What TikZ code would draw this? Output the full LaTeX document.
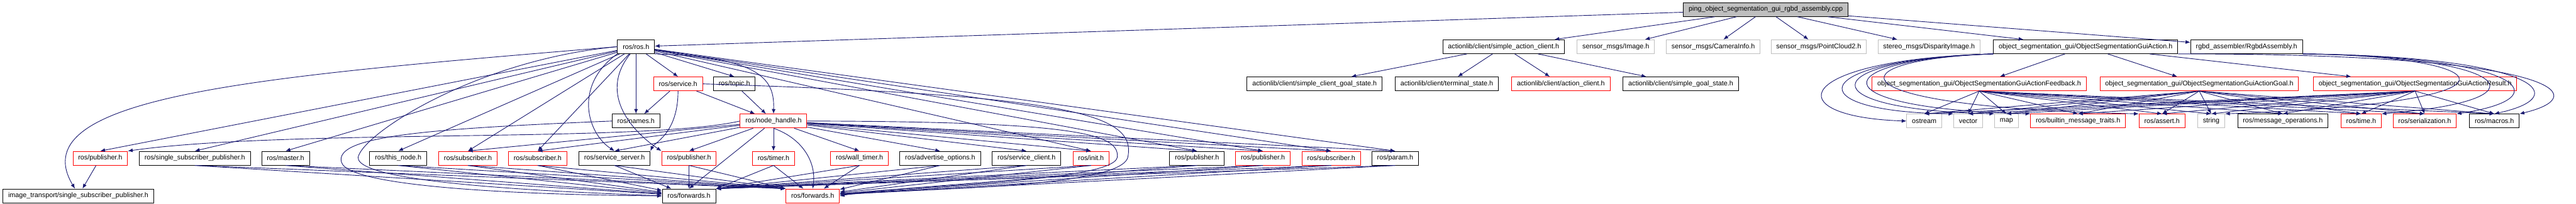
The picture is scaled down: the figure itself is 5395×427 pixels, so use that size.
\documentclass[tikz,border=0pt]{standalone}
\usepackage{fontspec}
\setmainfont{Liberation Sans}
\usetikzlibrary{arrows.meta}

\definecolor{edgeblue}{HTML}{191970}
\definecolor{boxgray}{HTML}{BFBFBF}

\begin{document}
\begin{tikzpicture}[
  x=1pt, y=-1pt,
  >={Latex[length=10pt,width=8pt]},
  hdr/.style={draw, line width=1.3pt, fill=white, minimum height=29pt,
    inner xsep=11pt, inner ysep=0pt, font=\fontsize{14.2}{16}\selectfont},
  hdrred/.style={hdr, draw=red},
  hdrsys/.style={hdr, draw=boxgray},
  hdrroot/.style={hdr, fill=boxgray},
  dep/.style={->, draw=edgeblue, line width=1.2pt},
]
  \useasboundingbox (0,0) rectangle (5395,427);

  \node[hdrroot] (main) at (3698,20) {ping\_object\_segmentation\_gui\_rgbd\_assembly.cpp};

  \node[hdr] (ros) at (1332,98) {ros/ros.h};
  \node[hdr] (sac) at (3149,98) {actionlib/client/simple\_action\_client.h};
  \node[hdrsys] (img) at (3384,98) {sensor\_msgs/Image.h};
  \node[hdrsys] (caminfo) at (3588,98) {sensor\_msgs/CameraInfo.h};
  \node[hdrsys] (pctwo) at (3809,98) {sensor\_msgs/PointCloud2.h};
  \node[hdrsys] (disp) at (4040,98) {stereo\_msgs/DisparityImage.h};
  \node[hdr] (gui) at (4368,98) {object\_segmentation\_gui/ObjectSegmentationGuiAction.h};
  \node[hdr] (rgbd) at (4705,98) {rgbd\_assembler/RgbdAssembly.h};

  \node[hdrred] (service) at (1420,176) {ros/service.h};
  \node[hdr] (topic) at (1538,176) {ros/topic.h};
  \node[hdr] (scgs) at (2753,176) {actionlib/client/simple\_client\_goal\_state.h};
  \node[hdr] (term) at (3030,176) {actionlib/client/terminal\_state.h};
  \node[hdrred] (acli) at (3269,176) {actionlib/client/action\_client.h};
  \node[hdr] (sgs) at (3520,176) {actionlib/client/simple\_goal\_state.h};
  \node[hdrred] (feedback) at (4145,176) {object\_segmentation\_gui/ObjectSegmentationGuiActionFeedback.h};
  \node[hdrred] (goal) at (4606,176) {object\_segmentation\_gui/ObjectSegmentationGuiActionGoal.h};
  \node[hdrred] (result) at (5058,176) {object\_segmentation\_gui/ObjectSegmentationGuiActionResult.h};

  \node[hdr] (names) at (1332,254) {ros/names.h};
  \node[hdrred] (nh) at (1620,254) {ros/node\_handle.h};
  \node[hdrsys] (ostream) at (4030,254) {ostream};
  \node[hdrsys] (vector) at (4122,254) {vector};
  \node[hdrsys] (map) at (4202,254) {map};
  \node[hdrred] (builtin) at (4352,254) {ros/builtin\_message\_traits.h};
  \node[hdrred] (assert) at (4528,254) {ros/assert.h};
  \node[hdrsys] (string) at (4631,254) {string};
  \node[hdr] (msgops) at (4781,254) {ros/message\_operations.h};
  \node[hdrred] (time) at (4945,254) {ros/time.h};
  \node[hdrred] (serial) at (5078,254) {ros/serialization.h};
  \node[hdr] (macros) at (5224,254) {ros/macros.h};

  \node[hdrred] (pubA) at (210,332) {ros/publisher.h};
  \node[hdr] (ssp) at (408,332) {ros/single\_subscriber\_publisher.h};
  \node[hdr] (master) at (598,332) {ros/master.h};
  \node[hdr] (thisnode) at (834,332) {ros/this\_node.h};
  \node[hdrred] (subA) at (980,332) {ros/subscriber.h};
  \node[hdrred] (subB) at (1126,332) {ros/subscriber.h};
  \node[hdr] (srvsrv) at (1287,332) {ros/service\_server.h};
  \node[hdrred] (pubB) at (1443,332) {ros/publisher.h};
  \node[hdrred] (timer) at (1620,332) {ros/timer.h};
  \node[hdrred] (walltimer) at (1800,332) {ros/wall\_timer.h};
  \node[hdr] (advopt) at (1969,332) {ros/advertise\_options.h};
  \node[hdr] (srvcli) at (2150,332) {ros/service\_client.h};
  \node[hdrred] (init) at (2285,332) {ros/init.h};
  \node[hdr] (pubC) at (2507,332) {ros/publisher.h};
  \node[hdrred] (pubD) at (2645,332) {ros/publisher.h};
  \node[hdrred] (subC) at (2788,332) {ros/subscriber.h};
  \node[hdr] (param) at (2922,332) {ros/param.h};

  \node[hdr] (itsp) at (164,411) {image\_transport/single\_subscriber\_publisher.h};
  \node[hdr] (fwdB) at (1443,411) {ros/forwards.h};
  \node[hdrred] (fwdR) at (1702,411) {ros/forwards.h};

  \foreach \dst in {ros,sac,img,caminfo,pctwo,disp,gui,rgbd}
    \draw[dep] (main) -- (\dst);
  \foreach \dst in {scgs,term,acli,sgs}
    \draw[dep] (sac) -- (\dst);

  \foreach \dst in {pubA,ssp,master,thisnode,subA,subB,names,service,topic,init,pubC,pubD,subC,param}
    \draw[dep] (ros) -- (\dst.north);
  \draw[dep] (ros.south west) .. controls (1200,180) and (1230,280) .. (srvsrv.north);
  \draw[dep] (ros) .. controls (1250,200) and (1330,280) .. (pubB.north west);
  \draw[dep] (ros.south east) .. controls (1600,120) and (1622,170) .. (nh.north);
  \draw[dep] (ros.west) .. controls (550,160) and (40,200) .. (itsp.115);
  \draw[dep] (ros.west) .. controls (1000,125) and (760,280) .. (750,330)
    .. controls (745,390) and (1250,405) .. (fwdB.west);

  \draw[dep] (service) -- (names);
  \draw[dep] (service) -- (nh);
  \draw[dep] (service.south) .. controls (1420,280) and (1370,300) .. (srvsrv.north east);
  \draw[dep] (service.east) .. controls (2250,200) and (2380,240) .. (2362,330)
    .. controls (2345,400) and (1850,395) .. (fwdR.east);
  \draw[dep] (topic) -- (nh);
  \draw[dep] (names.west) .. controls (900,270) and (700,285) .. (715,340)
    .. controls (730,400) and (1200,410) .. (fwdB.west);

  \foreach \dst in {subA,subB,srvsrv,pubB,timer,walltimer,advopt,srvcli,init,pubC,pubD,subC,param,fwdB}
    \draw[dep] (nh) -- (\dst.north);
  \draw[dep] (nh.west) .. controls (1350,300) and (600,270) .. (pubA.north east);
  \draw[dep] (nh.south) .. controls (1680,290) and (1710,340) .. (fwdR.north);
  \draw[dep] (nh.east) .. controls (2250,255) and (2345,280) .. (2340,330)
    .. controls (2330,385) and (1850,390) .. (fwdR.east);

  \draw[dep] (pubA) -- (itsp);
  \foreach \src in {ssp,master,thisnode,subA,subB,srvsrv,pubB}{
    \draw[dep] (\src.south) -- (fwdB);
    \draw[dep] (\src.south) -- (fwdR.north west);
  }
  \foreach \src in {timer,walltimer,advopt,srvcli,init,pubC,pubD,subC,param}{
    \draw[dep] (\src.south) -- (fwdB.north east);
    \draw[dep] (\src.south) -- (fwdR);
  }

  \foreach \dst in {feedback,goal,result}
    \draw[dep] (gui) -- (\dst);
  \foreach \src in {feedback,goal,result}
    \foreach \dst in {ostream,vector,map,builtin,assert,string,msgops,time,serial,macros}
      \draw[dep] (\src.south) -- (\dst.north);
  \draw[dep] (gui.south west) .. controls (3750,125) and (3720,245) .. (ostream.west);
  \draw[dep] (gui.south west) .. controls (3780,125) and (3760,235) .. (vector.north west);
  \draw[dep] (gui.south west) .. controls (3800,125) and (3780,230) .. (map.north west);
  \draw[dep] (gui.south west) .. controls (3820,125) and (3800,228) .. (builtin.north west);
  \draw[dep] (gui.south west) .. controls (3840,125) and (3820,225) .. (assert.north west);
  \draw[dep] (gui.south east) .. controls (5350,112) and (5440,200) .. (macros.north east);
  \draw[dep] (rgbd.south east) .. controls (5300,118) and (5400,200) .. (macros.north);
  \draw[dep] (rgbd.south east) .. controls (5280,118) and (5370,205) .. (serial.north east);
  \draw[dep] (rgbd.south east) .. controls (5260,118) and (5350,210) .. (time.north east);
  \draw[dep] (rgbd.south east) .. controls (5240,118) and (5330,215) .. (string.north east);
\end{tikzpicture}
\end{document}
